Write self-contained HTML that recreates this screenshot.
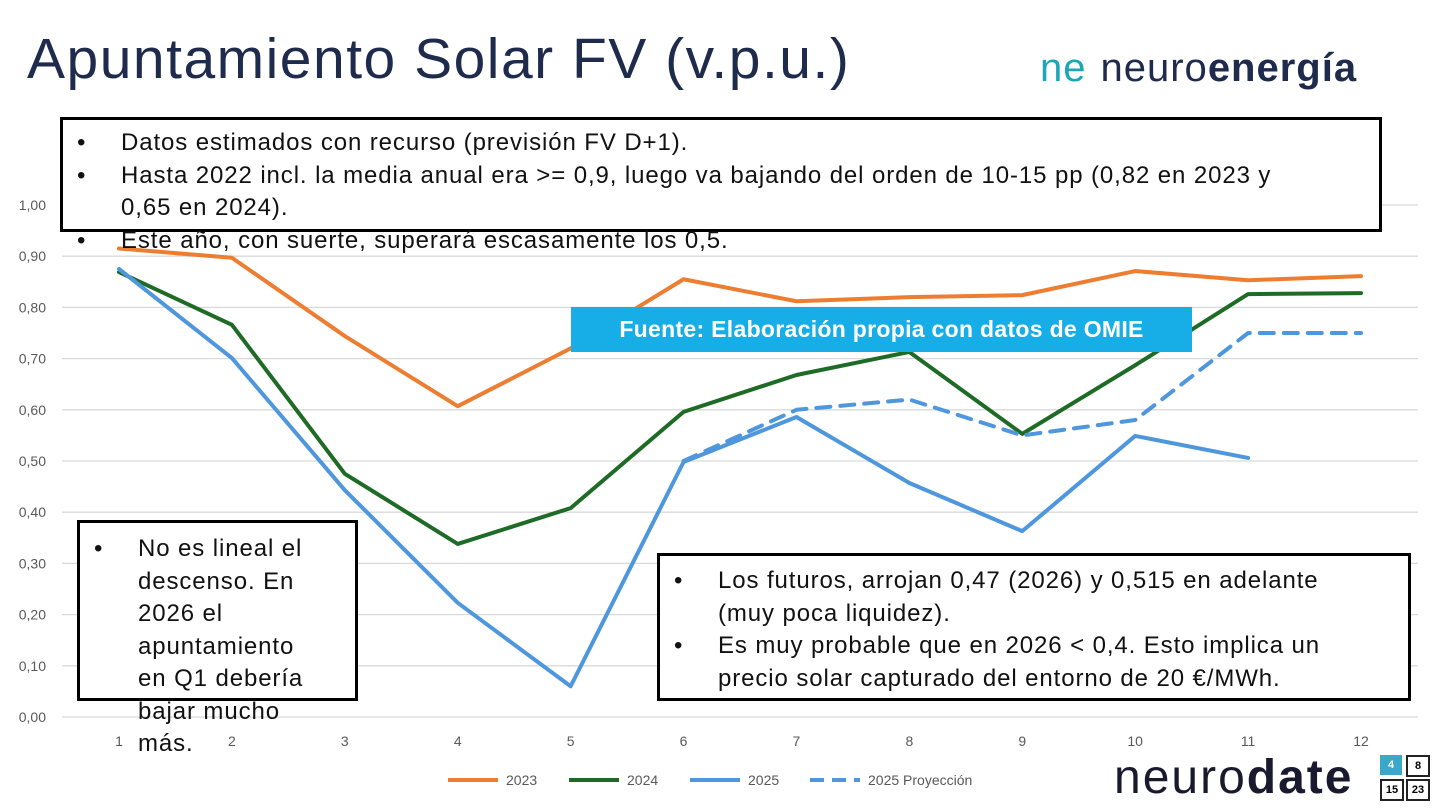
<!DOCTYPE html>
<html><head><meta charset="utf-8">
<style>
body{margin:0;width:1440px;height:810px;overflow:hidden;background:#fff;font-family:"Liberation Sans",sans-serif;position:relative}
.box{position:absolute;border:3px solid #000;background:#fff;box-sizing:border-box;font-size:24px;letter-spacing:0.9px;color:#111;line-height:32.5px}
.box ul{margin:0;padding:0;list-style:none}
.box li{position:relative;padding-left:58px}
.box li:before{content:"•";position:absolute;left:14px}
</style></head><body>
<div style="position:absolute;left:27px;top:26px;font-size:57px;color:#1f2b4d;letter-spacing:1.5px">Apuntamiento Solar FV (v.p.u.)</div>
<div style="position:absolute;left:1040px;top:46px;font-size:40px;color:#1f2b4d;letter-spacing:1px"><span style="color:#1aa7b8;margin-right:14px">ne</span>neuro<b>energía</b></div>

<svg id="chart" width="1440" height="810" style="position:absolute;left:0;top:0"></svg>

<div class="box" style="left:60px;top:117px;width:1322px;height:115px;overflow:visible;padding-top:7px;padding-right:50px">
<ul><li>Datos estimados con recurso (previsión FV D+1).</li>
<li>Hasta 2022 incl. la media anual era &gt;= 0,9, luego va bajando del orden de 10-15 pp (0,82 en 2023 y 0,65 en 2024).</li>
<li>Este año, con suerte, superará escasamente los 0,5.</li></ul></div>

<div style="position:absolute;left:571px;top:307px;width:621px;height:45px;background:#17aee8;color:#fff;font-size:23px;font-weight:bold;line-height:45px;text-align:center;letter-spacing:0.3px">Fuente: Elaboración propia con datos de OMIE</div>

<div class="box" style="left:77px;top:520px;width:281px;height:181px;padding-top:10px;padding-right:36px;overflow:visible">
<ul><li>No es lineal el descenso. En 2026 el apuntamiento en Q1 debería bajar mucho más.</li></ul></div>

<div class="box" style="left:657px;top:553px;width:754px;height:148px;padding-top:9px;padding-right:50px">
<ul><li>Los futuros, arrojan 0,47 (2026) y 0,515 en adelante (muy poca liquidez).</li>
<li>Es muy probable que en 2026 &lt; 0,4. Esto implica un precio solar capturado del entorno de 20 €/MWh.</li></ul></div>

<div style="position:absolute;left:1114px;top:750px;font-size:48px;color:#1a1a2e;letter-spacing:2px">neuro<b>date</b></div>
<div style="position:absolute;left:1380px;top:755px;width:52px;height:48px;font-size:11px;font-weight:bold">
<div style="position:absolute;left:0;top:0;width:22px;height:20px;background:#3aa8c8;color:#fff;text-align:center;line-height:20px">4</div>
<div style="position:absolute;left:26px;top:0;width:20px;height:18px;border:2px solid #222;text-align:center;line-height:18px">8</div>
<div style="position:absolute;left:0;top:24px;width:20px;height:18px;border:2px solid #222;text-align:center;line-height:18px">15</div>
<div style="position:absolute;left:26px;top:24px;width:20px;height:18px;border:2px solid #222;text-align:center;line-height:18px">23</div></div>

<script>
const months=[1,2,3,4,5,6,7,8,9,10,11,12];
const yTicks=[0,0.1,0.2,0.3,0.4,0.5,0.6,0.7,0.8,0.9,1.0];
const s2023=[0.915,0.897,0.744,0.607,0.72,0.855,0.812,0.82,0.824,0.871,0.853,0.861];
const s2024=[0.869,0.766,0.475,0.338,0.408,0.596,0.668,0.713,0.553,0.687,0.826,0.828];
const s2025=[0.875,0.701,0.443,0.223,0.06,0.498,0.586,0.457,0.363,0.549,0.506];
const projMonths=[6,7,8,9,10,11,12];
const s2025proj=[0.5,0.60,0.62,0.55,0.58,0.75,0.75];
const legendLabels=["2023","2024","2025","2025 Proyección"];
const NS="http://www.w3.org/2000/svg";
const svg=document.getElementById('chart');
const X=m=>119+(m-1)*(1361-119)/11;
const Y=v=>717-v*512;
function mk(t,a){const e=document.createElementNS(NS,t);for(const k in a)e.setAttribute(k,a[k]);svg.appendChild(e);return e;}
yTicks.forEach(v=>{
 const l=mk('line',{x1:62,x2:1418,y1:Y(v),y2:Y(v),stroke:'#d9d9d9','stroke-width':1.3});
 
 
 const t=mk('text',{x:46,y:Y(v)+5,'text-anchor':'end','font-size':14,fill:'#595959','font-family':'Liberation Sans'});
 t.textContent=v.toFixed(2).replace('.',',');
 
 
});
months.forEach(m=>{
 const t=mk('text',{x:X(m),y:746,'text-anchor':'middle','font-size':14,fill:'#595959','font-family':'Liberation Sans'});
 t.textContent=m;
 
 
});
function line(xs,vals,color,dash,name){
 const p=mk('polyline',{points:vals.map((v,i)=>X(xs[i])+','+Y(v)).join(' '),fill:'none',stroke:color,'stroke-width':4,'stroke-linejoin':'round','stroke-linecap':'round'});
 if(dash)p.setAttribute('stroke-dasharray',dash);
 
 
}
line(months,s2023,'#ed7d31',null,'series-2023');
line(months,s2024,'#1e6b26',null,'series-2024');
line(months,s2025,'#4f97dd',null,'series-2025');
line(projMonths,s2025proj,'#4f97dd','14,10','series-2025-proyeccion');
const legColors=['#ed7d31','#1e6b26','#4f97dd','#4f97dd'];
const legX=[448,569,690,810];
legendLabels.forEach((lab,i)=>{
 const l=mk('line',{x1:legX[i],x2:legX[i]+50,y1:780,y2:780,stroke:legColors[i],'stroke-width':4});
 if(i==3)l.setAttribute('stroke-dasharray','14,8');
 
 
 const t=mk('text',{x:legX[i]+58,y:785,'font-size':14,fill:'#595959','font-family':'Liberation Sans'});
 t.textContent=lab;
 
 
});
</script>
</body></html>
